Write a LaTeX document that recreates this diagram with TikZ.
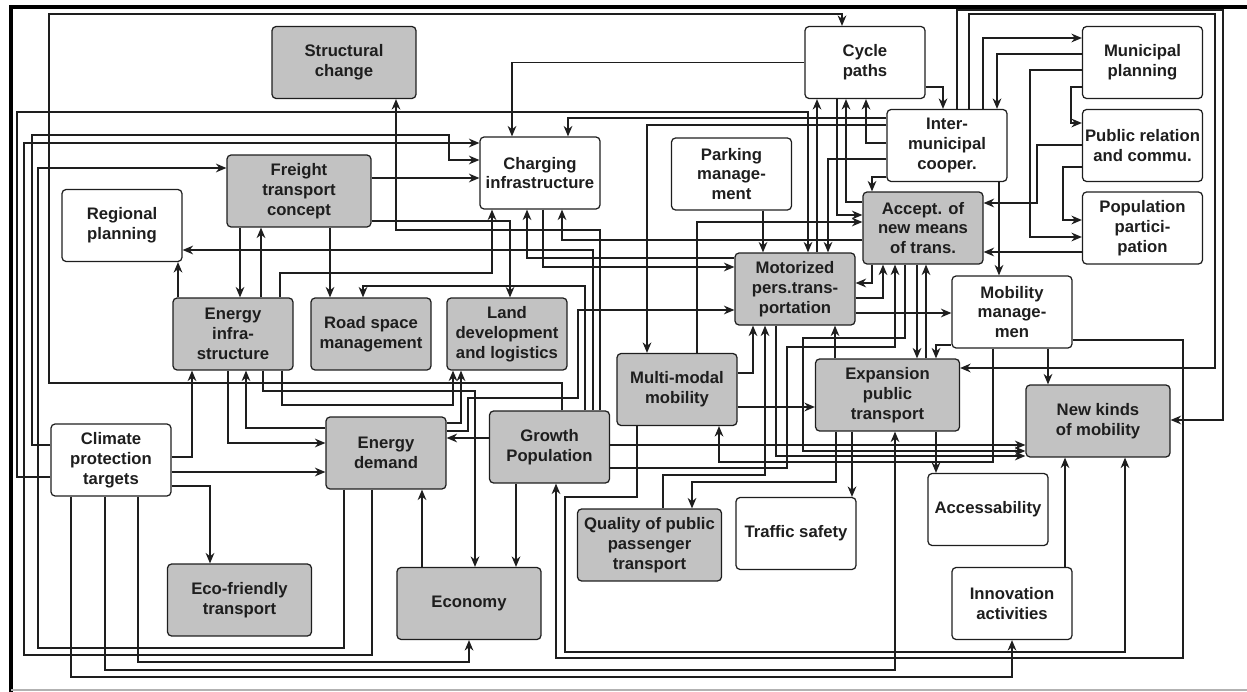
\documentclass[tikz,border=0pt]{standalone}
\usepackage{fontspec}
\setmainfont{Liberation Sans}
\usepackage{tikz}
\usetikzlibrary{
  positioning,
  calc,
  arrows.meta
  }
\definecolor{boxgray}{RGB}{194,194,194}
\definecolor{inkline}{RGB}{30,30,30}
\tikzset{
  >={Stealth[length=6pt,width=5pt]},
  wire/.style={line width=0.7pt, draw=inkline, ->},
  box/.style={draw=inkline, line width=0.7pt, rounded corners=2.3pt, align=center,
    font=\fontsize{9.5}{11.3}\selectfont\bfseries, text=inkline,
    minimum width=2.4cm, minimum height=1.44cm, inner sep=1pt},
  gbox/.style={box, fill=boxgray},
  wide/.style={minimum width=2.88cm},
}

\begin{document}
\begin{tikzpicture}[x=0.02cm, y=-0.02cm]
\useasboundingbox (0,0) rectangle (1247,692);
% frame
\draw[line width=1.8pt] (11,692) -- (11,7) -- (1247,7);
\draw[gray!60, line width=0.6pt] (11,690) -- (1247,690);
% =========================================================
% (A) boxes
% =========================================================
  \node[gbox, wide] (struct)   at (344,62.5)  {Structural\\change};
  \node[box]        (cycle)    at (865,62.5)  {Cycle\\paths};
  \node[box]        (munic)    at (1142.5,62.5) {Municipal\\planning};
  \node[box]        (inter)    at (947,145.5) {Inter-\\municipal\\cooper.};
  \node[box]        (pubrel)   at (1142.5,145.5) {Public relation\\and commu.};
  \node[box]        (poppart)  at (1142.5,228) {Population\\partici-\\pation};
  \node[gbox]       (accept)   at (923,228)   {Accept. of\\new means\\of trans.};
  \node[box]        (mobman)   at (1012,312)  {Mobility\\manage-\\men};
  \node[box]        (charging) at (540,173)   {Charging\\infrastructure};
  \node[box]        (parking)  at (731.5,174) {Parking\\manage-\\ment};
  \node[gbox]       (motor)    at (795,289)   {Motorized\\pers.trans-\\portation};
  \node[gbox, wide] (freight)  at (299,191)   {Freight\\transport\\concept};
  \node[box]        (regional) at (122,225.5) {Regional\\planning};
  \node[gbox]       (energyinf) at (233,334)  {Energy\\infra-\\structure};
  \node[gbox]       (road)     at (371,334)   {Road space\\management};
  \node[gbox]       (land)     at (507,334)   {Land\\development\\and logistics};
  \node[gbox]       (multimodal) at (677,389.5) {Multi-modal\\mobility};
  \node[gbox, wide] (expansion) at (887.5,395) {Expansion\\public\\transport};
  \node[gbox, wide] (newkinds) at (1098,421)  {New kinds\\of mobility};
  \node[box]        (access)   at (988,509.5) {Accessability};
  \node[box]        (traffic)  at (796,533.5) {Traffic safety};
  \node[box]        (innov)    at (1012,603.5) {Innovation\\activities};
  \node[gbox, wide] (quality)  at (649.5,545) {Quality of public\\passenger\\transport};
  \node[gbox]       (growth)   at (549.5,447) {Growth\\Population};
  \node[gbox]       (edemand)  at (386,453)   {Energy\\demand};
  \node[box]        (climate)  at (111,460)   {Climate\\protection\\targets};
  \node[gbox, wide] (eco)      at (239.5,600) {Eco-friendly\\transport};
  \node[gbox, wide] (economy)  at (469,603.5) {Economy};
% =========================================================
% (B) links from growth, economy and climate
% =========================================================
  \draw[wire] (growth.north -| 562,0) |- (49,383) |- (842,14) -- (cycle.north -| 842,0);
  \draw[wire] (growth.north -| 600,0) |- (396,230) -- (struct.south -| 396,0);
  \draw[wire] (growth.north -| 593,0) |- (regional.east |- 0,250);
  \draw[wire] (growth.north -| 585,0) |- (363,286) -- (road.north -| 363,0);
  \draw[wire] (growth.west |- 0,438) -- (edemand.east |- 0,438);
  \draw[wire] (growth.south -| 516,0) -- (economy.north -| 516,0);
  \draw[wire] (growth.east |- 0,445) -- (newkinds.west |- 0,445);
  \draw[wire] (growth.east |- 0,468) -| (787,347) -| (accept.south -| 895,0);
  \draw[wire] (economy.north -| 422,0) -- (edemand.south -| 422,0);
  \draw[wire] (climate.west |- 0,477) -| (17,112) -| (motor.north -| 808,0);
  \draw[wire] (climate.west |- 0,445) -| (32,135) -| (449,160) -- (charging.west |- 0,160);
  \draw[wire] (climate.south -| 71,0) |- (1012,677) -- (innov.south -| 1012,0);
  \draw[wire] (climate.south -| 105,0) |- (895,670) -- (expansion.south -| 895,0);
  \draw[wire] (climate.south -| 138,0) |- (469,662) -- (economy.south);
  \draw[wire] (climate.east |- 0,457) -| (energyinf.south -| 192,0);
  \draw[wire] (climate.east |- 0,472) -- (edemand.west |- 0,472);
  \draw[wire] (climate.east |- 0,486) -| (eco.north -| 210,0);
% =========================================================
% (C) energy, freight and land use
% =========================================================
  \draw[wire] (edemand.south -| 372,0) |- (24,655) |- (charging.west |- 0,143);
  \draw[wire] (edemand.south -| 344,0) |- (38,648) |- (freight.west |- 0,168);
  \draw[wire] (energyinf.south -| 228,0) |- (edemand.west |- 0,443);
  \draw[wire] (edemand.west |- 0,428) -| (energyinf.south -| 246,0);
  \draw[wire] (energyinf.south -| 263,0) |- (475,391) -- (economy.north -| 475,0);
  \draw[wire] (energyinf.south -| 282,0) |- (453,405) -- (land.south -| 453,0);
  \draw[wire] (edemand.east |- 0,423) -| (land.south -| 461,0);
  \draw[wire] (edemand.east |- 0,431) -| (468,398) -| (578,310) -- (motor.west |- 0,310);
  \draw[wire] (energyinf.north -| 178,0) -- (regional.south -| 178,0);
  \draw[wire] (freight.south -| 240,0) -- (energyinf.north -| 240,0);
  \draw[wire] (energyinf.north -| 261,0) -- (freight.south -| 261,0);
  \draw[wire] (energyinf.north -| 280,0) |- (492,273) -- (charging.south -| 492,0);
  \draw[wire] (freight.south -| 330,0) -- (road.north -| 330,0);
  \draw[wire] (freight.east |- 0,178) -- (charging.west |- 0,178);
  \draw[wire] (freight.east |- 0,221) -| (land.north -| 510,0);
% =========================================================
% (D) cycle paths, inter-municipal cooperation, planning
% =========================================================
  \draw[wire] (cycle.west) -| (charging.north -| 512,0);
  \draw[wire] (cycle.east |- 0,87) -| (inter.north -| 943,0);
  \draw[wire] (inter.west |- 0,118) -| (charging.north -| 568,0);
  \draw[wire] (inter.west |- 0,125) -| (multimodal.north -| 647,0);
  \draw[wire] (motor.north -| 817,0) -- (cycle.south -| 817,0);
  \draw[wire] (inter.west |- 0,159) -| (motor.north -| 828,0);
  \draw[wire] (cycle.south -| 837,0) |- (accept.west |- 0,215);
  \draw[wire] (accept.west |- 0,202) -| (cycle.south -| 846,0);
  \draw[wire] (inter.west |- 0,143) -| (cycle.south -| 866,0);
  \draw[wire] (inter.west |- 0,177) -| (accept.north -| 872,0);
  \draw[wire] (inter.north -| 969,0) |- (1215,14) |- (expansion.east |- 0,368);
  \draw[wire] (inter.north -| 957,0) |- (1223,10) |- (newkinds.east |- 0,420);
  \draw[wire] (inter.north -| 983,0) |- (munic.west |- 0,38);
  \draw[wire] (munic.west |- 0,54) -| (inter.north -| 997,0);
  \draw[wire] (munic.west |- 0,70) -| (1030,237) -- (poppart.west |- 0,237);
  \draw[wire] (munic.west |- 0,87) -| (1071,123) -- (pubrel.west |- 0,123);
  \draw[wire] (pubrel.west |- 0,145) -| (1037,203) -- (accept.east |- 0,203);
  \draw[wire] (pubrel.west |- 0,167) -| (1063,220) -- (poppart.west |- 0,220);
  \draw[wire] (poppart.west |- 0,252) -- (accept.east |- 0,252);
  \draw[wire] (inter.south -| 999,0) -- (mobman.north -| 999,0);
% =========================================================
% (E) motorized, acceptance, multi-modal, public transport
% =========================================================
  \draw[wire] (accept.south -| 872,0) |- (motor.east |- 0,283);
  \draw[wire] (motor.east |- 0,298) -| (accept.south -| 883,0);
  \draw[wire] (motor.east |- 0,313) -- (mobman.west |- 0,313);
  \draw[wire] (accept.south -| 917,0) -- (expansion.north -| 917,0);
  \draw[wire] (expansion.north -| 926,0) -- (accept.south -| 926,0);
  \draw[wire] (mobman.west |- 0,345) -| (expansion.north -| 936,0);
  \draw[wire] (parking.south -| 763,0) -- (motor.north -| 763,0);
  \draw[wire] (multimodal.east |- 0,373) -| (motor.south -| 753,0);
  \draw[wire] (quality.north -| 663,0) |- (765,475) -- (motor.south -| 765,0);
  \draw[wire] (expansion.north -| 835,0) -- (motor.south -| 835,0);
  \draw[wire] (motor.south -| 776,0) |- (newkinds.west |- 0,456);
  \draw[wire] (accept.south -| 905,0) |- (803,338) |- (newkinds.west |- 0,451);
  \draw[wire] (multimodal.east |- 0,407) -- (expansion.west |- 0,407);
  \draw[wire] (mobman.south -| 993,0) |- (719,462) -- (multimodal.south -| 719,0);
  \draw[wire] (multimodal.north -| 697,0) |- (accept.west |- 0,222);
  \draw[wire] (charging.south -| 543,0) |- (motor.west |- 0,267);
  \draw[wire] (motor.west |- 0,258) -| (charging.south -| 527,0);
  \draw[wire] (accept.west |- 0,240) -| (charging.south -| 562,0);
  \draw[wire] (multimodal.south -| 637,0) |- (565,497) |- (1125,652) -- (newkinds.south -| 1125,0);
  \draw[wire] (innov.north -| 1065,0) -- (newkinds.south -| 1065,0);
  \draw[wire] (mobman.south -| 1048,0) -- (newkinds.north -| 1048,0);
  \draw[wire] (mobman.east |- 0,340) -| (1183,658) -| (growth.south -| 556,0);
  \draw[wire] (expansion.south -| 852,0) -- (traffic.north -| 852,0);
  \draw[wire] (expansion.south -| 936,0) -- (access.north -| 936,0);
  \draw[wire] (expansion.south -| 836,0) |- (692,482) -- (quality.north -| 692,0);
\end{tikzpicture}
\end{document}
